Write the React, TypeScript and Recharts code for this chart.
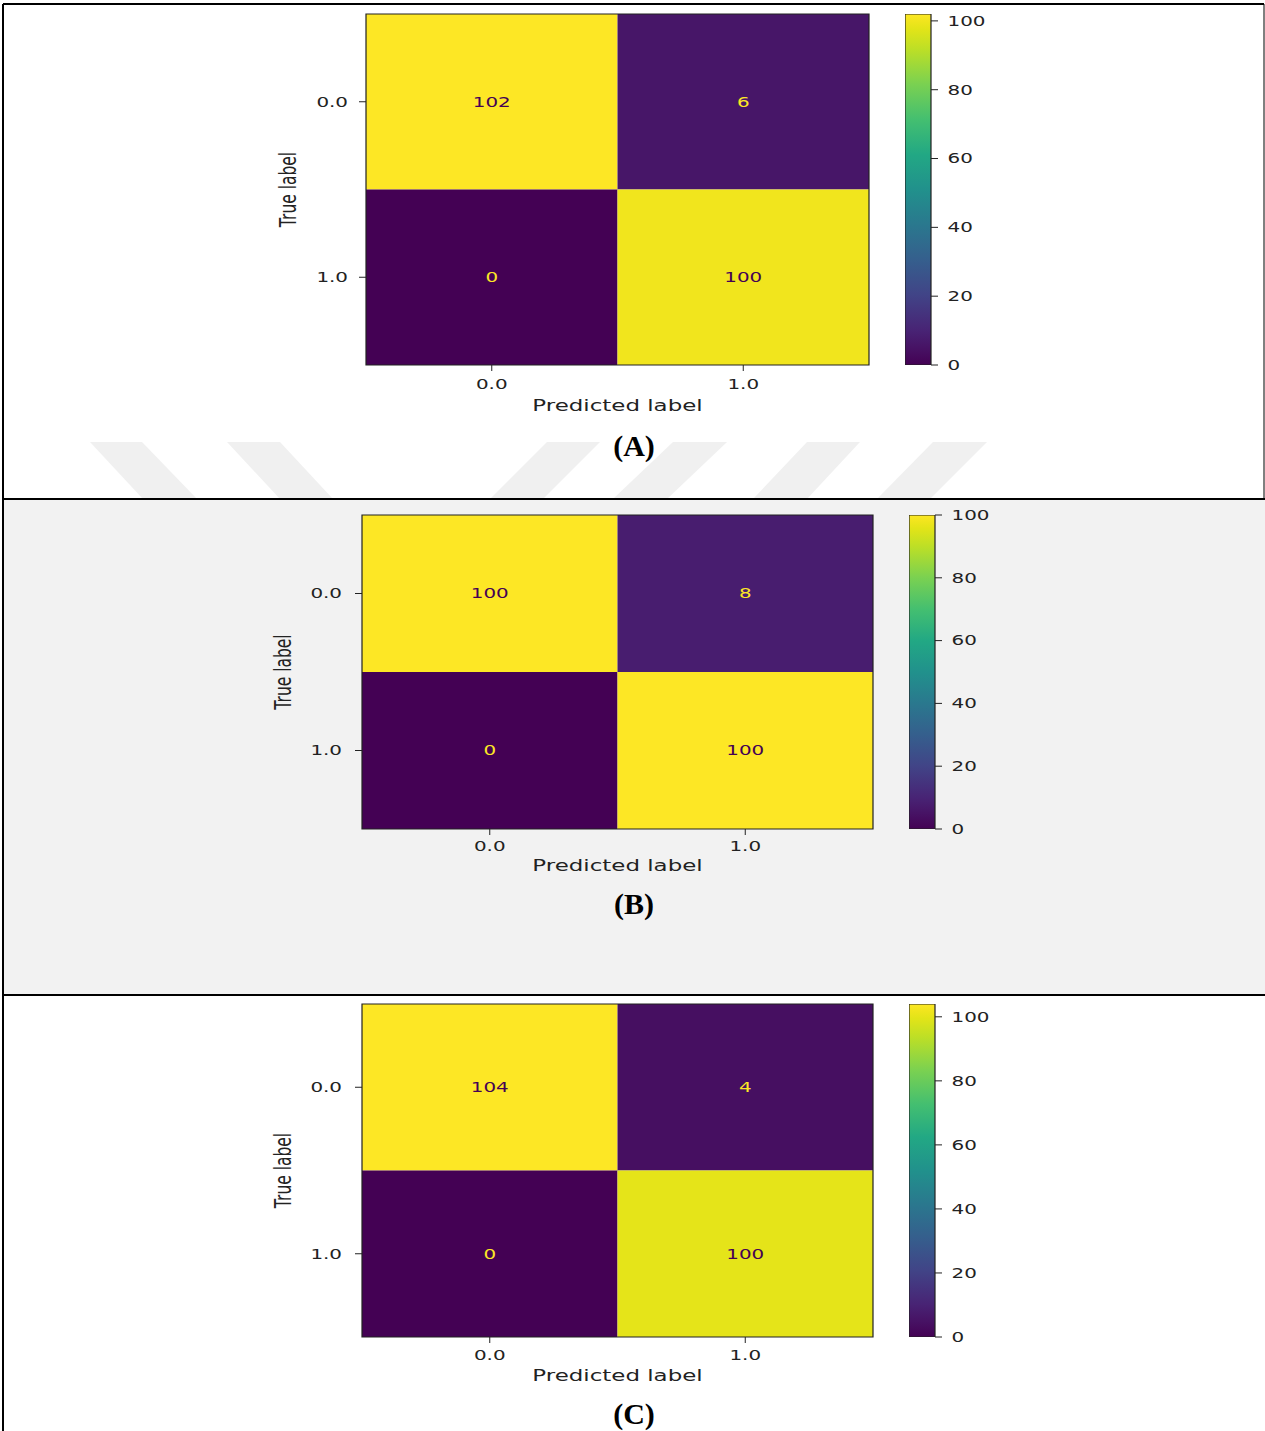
import React from "react";
import { ScatterChart, Scatter, XAxis, YAxis, ReferenceArea, BarChart, Bar, Label } from "recharts";

const predLabels = ["0.0", "1.0"];
const trueLabels = ["0.0", "1.0"];
const cmA = [[102, 6], [0, 100]];
const cmB = [[100, 8], [0, 100]];
const cmC = [[104, 4], [0, 100]];
const cbTicks = [0, 20, 40, 60, 80, 100];
const captions = ["(A)", "(B)", "(C)"];

// viridis colormap samples
const viridisStops: [number, string][] = [
  [0, "#440154"], [0.05, "#471365"], [0.1, "#482475"], [0.2, "#414487"], [0.3, "#355f8d"],
  [0.4, "#2a788e"], [0.5, "#21918c"], [0.6, "#22a884"], [0.7, "#44bf70"], [0.8, "#7ad151"],
  [0.9, "#bddf26"], [0.9569, "#e2e418"], [0.9804, "#f1e51d"], [1, "#fde725"],
];

const hex = (c: string) => [1, 3, 5].map((i) => parseInt(c.slice(i, i + 2), 16));
function viridis(t: number) {
  for (let i = 1; i < viridisStops.length; i++) {
    if (t <= viridisStops[i][0]) {
      const [t0, c0] = viridisStops[i - 1];
      const [t1, c1] = viridisStops[i];
      const f = (t - t0) / (t1 - t0);
      const a = hex(c0), b = hex(c1);
      return "rgb(" + a.map((v, k) => Math.round(v + (b[k] - v) * f)).join(",") + ")";
    }
  }
  return viridisStops[viridisStops.length - 1][1];
}

const FONT = '"DejaVu Sans", sans-serif';
const INK = "#222";
const SX = 1.42; // the source image is stretched sideways

function Panel({ matrix, box, cb, yGap, xTickC, xLabelC, yLabelX, gid }: any) {
  const max = Math.max(...matrix.flat());
  const cells = matrix.flatMap((row: number[], r: number) => row.map((v, c) => ({ x: c, y: r, v })));
  const pw = box.x1 - box.x0, ph = box.y1 - box.y0;
  return (
    <>
      <div style={{ position: "absolute", left: box.x0 - 120, top: box.y0 - 10 }}>
        <ScatterChart width={pw + 130} height={ph + 70} margin={{ top: 10, right: 10, bottom: 0, left: 0 }}>
          <XAxis type="number" dataKey="x" domain={[-0.5, 1.5]} ticks={[0, 1]} allowDataOverflow height={60}
            axisLine={false} tickLine={{ stroke: INK }} tickSize={6} tickMargin={xTickC - 6} interval={0}
            tick={(p: any) => (
              <text transform={`translate(${p.x},${p.y}) scale(${SX},1)`} textAnchor="middle" dominantBaseline="central" fontSize={14} fontFamily={FONT} fill={INK}>
                {predLabels[p.payload.value]}
              </text>
            )}>
            <Label content={(p: any) => (
              <text transform={`translate(${p.viewBox.x + p.viewBox.width / 2},${p.viewBox.y + xLabelC}) scale(1.48,1)`} textAnchor="middle" dominantBaseline="central" fontSize={15.5} fontFamily={FONT} fill={INK}>
                Predicted label
              </text>
            )} />
          </XAxis>
          <YAxis type="number" dataKey="y" domain={[-0.5, 1.5]} reversed ticks={[0, 1]} allowDataOverflow width={120}
            axisLine={false} tickLine={{ stroke: INK }} tickSize={7} tickMargin={yGap - 7} interval={0}
            tick={(p: any) => (
              <text transform={`translate(${p.x},${p.y}) scale(${SX},1)`} textAnchor="end" dominantBaseline="central" fontSize={14} fontFamily={FONT} fill={INK}>
                {trueLabels[p.payload.value]}
              </text>
            )}>
            <Label content={(p: any) => (
              <text transform={`translate(${p.viewBox.x + p.viewBox.width + yLabelX},${p.viewBox.y + p.viewBox.height / 2}) scale(1.48,1) rotate(-90)`} textAnchor="middle" dominantBaseline="central" fontSize={15.5} fontFamily={FONT} fill={INK}>
                True label
              </text>
            )} />
          </YAxis>
          {cells.map((c: any) => (
            <ReferenceArea key={`${c.x}-${c.y}`} x1={c.x - 0.5} x2={c.x + 0.5} y1={c.y - 0.5} y2={c.y + 0.5}
              fill={viridis(c.v / max)} fillOpacity={1} stroke="none" ifOverflow="visible" />
          ))}
          <ReferenceArea x1={-0.5} x2={1.5} y1={-0.5} y2={1.5} fill="none" stroke={INK} strokeWidth={1.2} ifOverflow="visible" />
          <Scatter data={cells} isAnimationActive={false}
            shape={(p: any) => (
              <text transform={`translate(${p.cx},${p.cy}) scale(${SX},1)`} textAnchor="middle" dominantBaseline="central" fontSize={14} fontFamily={FONT}
                fill={p.payload.v > max / 2 ? "#440154" : "#fde725"}>
                {p.payload.v}
              </text>
            )} />
        </ScatterChart>
      </div>
      <div style={{ position: "absolute", left: cb.x0, top: box.y0 - 10 }}>
        <BarChart width={cb.x1 - cb.x0 + 60} height={ph + 20} data={[{ name: "cb", v: max }]} barCategoryGap={0}
          margin={{ top: 10, right: 0, bottom: 10, left: 0 }}>
          <defs>
            <linearGradient id={gid} x1="0" y1="1" x2="0" y2="0">
              {viridisStops.map(([t, c]) => <stop key={t} offset={t} stopColor={c} />)}
            </linearGradient>
          </defs>
          <XAxis dataKey="name" hide />
          <YAxis orientation="right" domain={[0, max]} ticks={cbTicks} allowDataOverflow width={60} axisLine={false}
            tickLine={{ stroke: INK }} tickSize={7} tickMargin={9.5} interval={0}
            tick={(p: any) => (
              <text transform={`translate(${p.x},${p.y}) scale(${SX},1)`} textAnchor="start" dominantBaseline="central" fontSize={14} fontFamily={FONT} fill={INK}>
                {p.payload.value}
              </text>
            )} />
          <Bar dataKey="v" fill={`url(#${gid})`} stroke={INK} strokeWidth={1.2} isAnimationActive={false} />
        </BarChart>
      </div>
    </>
  );
}

function Caption({ text, cy }: { text: string; cy: number }) {
  return (
    <div style={{ position: "absolute", left: 534, width: 200, top: cy - 17, lineHeight: "34px", textAlign: "center",
      fontFamily: '"Liberation Serif", serif', fontWeight: "bold", fontSize: 30, color: "#000" }}>
      {text}
    </div>
  );
}

// faint diagonal watermark stripes behind panel A
const stripes = [
  "90,442 142,442 197,499 143,499", "227,442 280,442 333,499 280,499",
  "547,442 600,442 543,499 490,499", "673,442 727,442 667,499 613,499",
  "807,442 860,442 807,499 753,499", "933,442 987,442 930,499 877,499",
];

export default function App() {
  return (
    <div style={{ position: "absolute", left: 0, top: 0, width: 1265, height: 1431, background: "#fff", overflow: "hidden" }}>
      <svg width={1265} height={1431} style={{ position: "absolute", left: 0, top: 0 }}>
        <rect x={3} y={499} width={1262} height={496} fill="#f2f2f2" />
        {stripes.map((s) => <polygon key={s} points={s} fill="#f0f0f0" />)}
        <line x1={3} y1={4} x2={1264} y2={4} stroke="#000" strokeWidth={2} />
        <line x1={3} y1={499} x2={1265} y2={499} stroke="#000" strokeWidth={2} />
        <line x1={3} y1={995} x2={1265} y2={995} stroke="#000" strokeWidth={2} />
        <line x1={3} y1={4} x2={3} y2={1431} stroke="#000" strokeWidth={2} />
        <line x1={1264} y1={4} x2={1264} y2={499} stroke="#000" strokeWidth={1} />
      </svg>
      <Panel matrix={cmA} box={{ x0: 366, y0: 14, x1: 869, y1: 365 }} cb={{ x0: 905, x1: 931 }} yGap={18} xTickC={19} xLabelC={41} yLabelX={-78} gid="vA" />
      <Caption text={captions[0]} cy={446} />
      <Panel matrix={cmB} box={{ x0: 362, y0: 515, x1: 873, y1: 829 }} cb={{ x0: 909, x1: 935 }} yGap={20} xTickC={17} xLabelC={37} yLabelX={-79} gid="vB" />
      <Caption text={captions[1]} cy={904} />
      <Panel matrix={cmC} box={{ x0: 362, y0: 1004, x1: 873, y1: 1337 }} cb={{ x0: 909, x1: 935 }} yGap={20} xTickC={18} xLabelC={39} yLabelX={-79} gid="vC" />
      <Caption text={captions[2]} cy={1414} />
    </div>
  );
}
